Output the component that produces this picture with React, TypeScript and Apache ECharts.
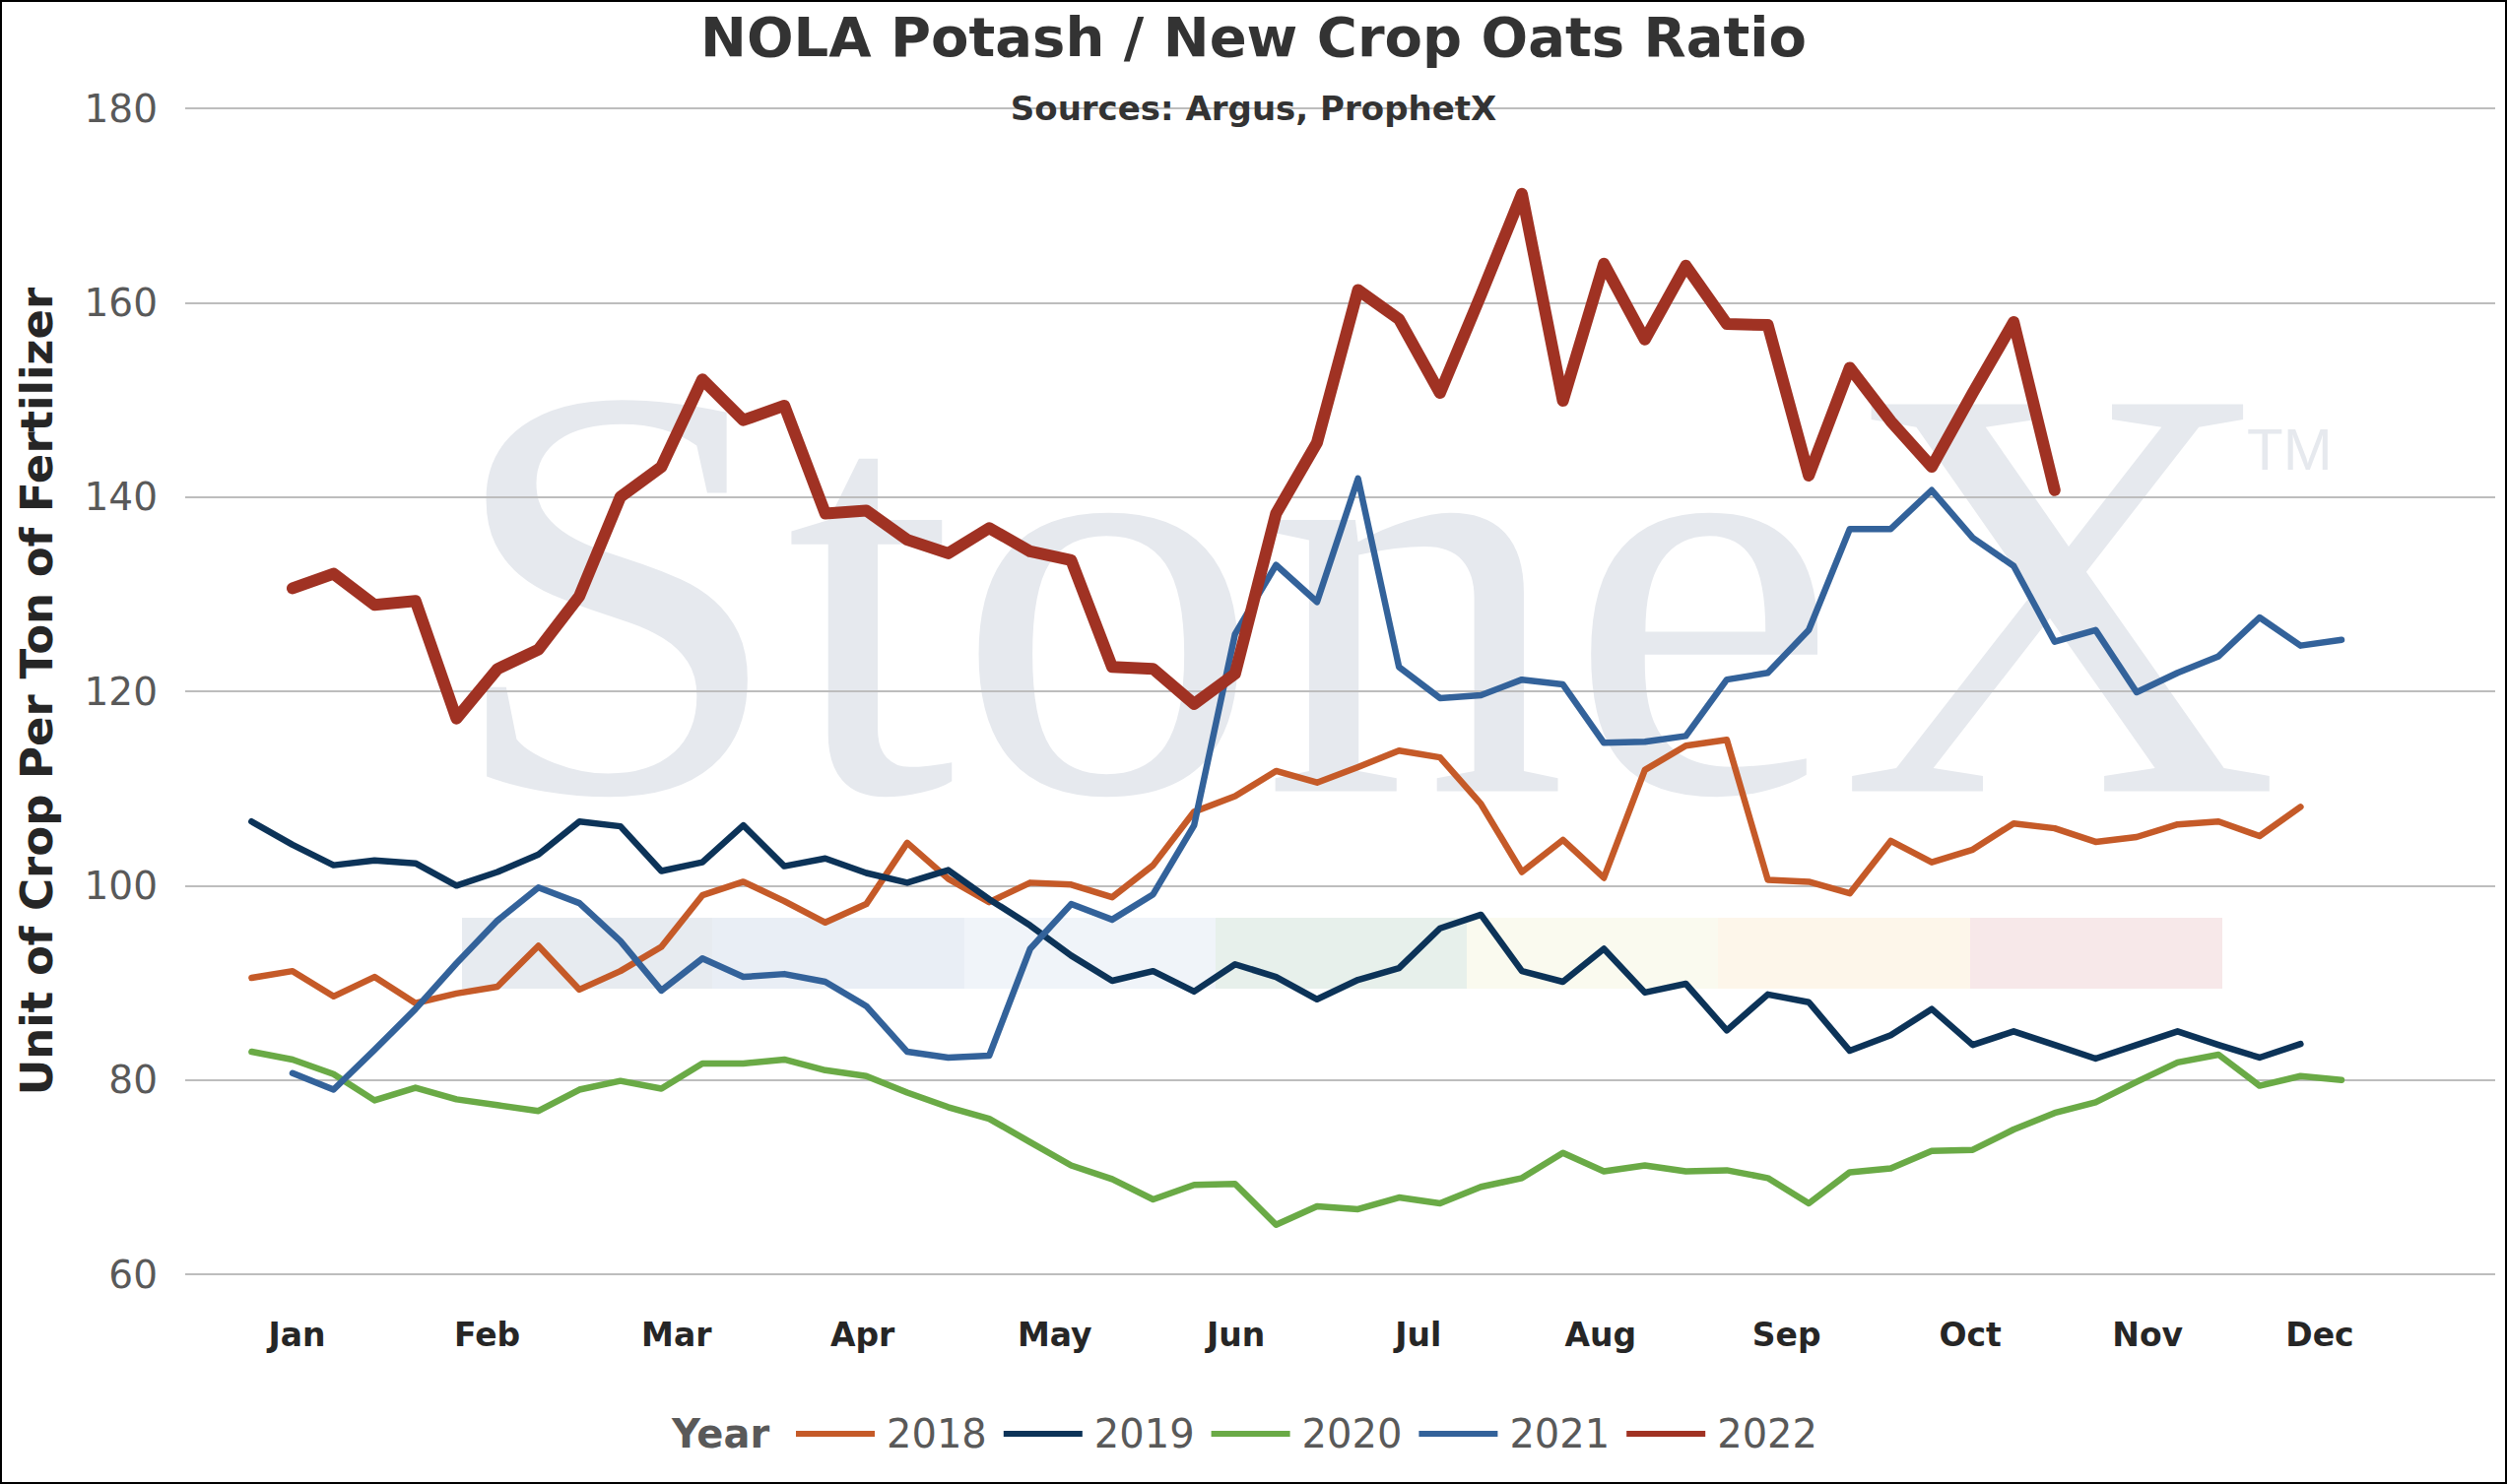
import React, { useEffect, useRef } from "react";
import * as echarts from "echarts";

// weekly ratio values, index 0 = first week of the year
const years = ["2018", "2019", "2020", "2021", "2022"];
const yearColors = ["#c55a28", "#0c3358", "#6aaa46", "#33629a", "#a03223"];

const monthLabels = ["Jan", "Feb", "Mar", "Apr", "May", "Jun", "Jul", "Aug", "Sep", "Oct", "Nov", "Dec"];
const monthTickWeeks = [1.11, 5.75, 10.37, 14.91, 19.6, 24.02, 28.47, 32.92, 37.46, 41.94, 46.27, 50.47];

const values2018 = [
  90.5, 91.2, 88.6, 90.6, 87.9, 88.9, 89.6, 93.8, 89.3, 91.2, 93.7, 99.0, 100.4, 98.4, 96.2, 98.1, 104.4,
  100.7, 98.3, 100.3, 100.1, 98.8, 102.1, 107.6, 109.2, 111.8, 110.6, 112.2, 113.9, 113.2, 108.4, 101.4,
  104.7, 100.8, 111.9, 114.4, 115.0, 100.6, 100.4, 99.2, 104.6, 102.4, 103.7, 106.4, 105.9, 104.5, 105.0,
  106.3, 106.6, 105.1, 108.1,
];
const values2019 = [
  106.6, 104.2, 102.1, 102.6, 102.3, 100.0, 101.4, 103.2, 106.6, 106.1, 101.5, 102.4, 106.2, 102.0, 102.8,
  101.3, 100.3, 101.6, 98.6, 95.9, 92.8, 90.2, 91.2, 89.1, 91.9, 90.6, 88.3, 90.3, 91.5, 95.6, 97.0, 91.2,
  90.1, 93.5, 89.0, 89.9, 85.1, 88.8, 88.0, 83.0, 84.6, 87.3, 83.6, 85.0, 83.6, 82.2, 83.6, 85.0, 83.6,
  82.3, 83.7,
];
const values2020 = [
  82.9, 82.1, 80.6, 77.9, 79.2, 78.0, 77.4, 76.8, 79.0, 79.9, 79.1, 81.7, 81.7, 82.1, 81.0, 80.4, 78.7,
  77.2, 76.0, 73.6, 71.2, 69.8, 67.7, 69.2, 69.3, 65.1, 67.0, 66.7, 67.9, 67.3, 69.0, 69.9, 72.5, 70.6,
  71.2, 70.6, 70.7, 69.9, 67.3, 70.5, 70.9, 72.7, 72.8, 74.9, 76.6, 77.7, 79.8, 81.8, 82.6, 79.4, 80.4,
  80.0,
];
const values2021 = [
  null, 80.7, 79.0, 83.1, 87.3, 92.0, 96.4, 99.8, 98.2, 94.3, 89.2, 92.5, 90.6, 90.9, 90.1, 87.6, 82.9,
  82.3, 82.5, 93.5, 98.1, 96.5, 99.1, 106.2, 125.9, 133.0, 129.2, 141.9, 122.5, 119.3, 119.6, 121.2, 120.7,
  114.7, 114.8, 115.4, 121.2, 121.9, 126.3, 136.7, 136.7, 140.7, 135.8, 132.9, 125.1, 126.3, 119.9, 121.9,
  123.6, 127.6, 124.7, 125.3,
];
const values2022 = [
  null, 130.6, 132.1, 128.9, 129.3, 117.2, 122.3, 124.3, 129.8, 140.0, 143.1, 152.1, 147.9, 149.4, 138.3,
  138.6, 135.6, 134.2, 136.8, 134.4, 133.5, 122.5, 122.3, 118.7, 121.8, 138.3, 145.6, 161.3, 158.3, 150.7,
  160.8, 171.2, 149.9, 164.0, 156.2, 163.8, 157.8, 157.7, 142.2, 153.3, 147.8, 143.1, 150.7, 158.0, 140.7,
];

const FONT = "DejaVu Sans";

const App: React.FC = () => {
  const chartRef = useRef<HTMLDivElement | null>(null);

  useEffect(() => {
    document.body.style.margin = "0";
    if (!chartRef.current) return;
    const chart = echarts.init(chartRef.current, undefined, { renderer: "svg" });

    const seriesValues: (number | null)[][] = [values2018, values2019, values2020, values2021, values2022];

    // faded brand colour band behind the lines
    const band = [
      [469, 723, "#e7ebf0"],
      [723, 979, "#e9eef5"],
      [979, 1234, "#f0f4f9"],
      [1234, 1489, "#e7f0eb"],
      [1489, 1744, "#fafaef"],
      [1744, 2000, "#fdf6ea"],
      [2000, 2256, "#f7e8e9"],
    ];

    const option = {
      animation: false,
      backgroundColor: "#ffffff",
      title: [
        {
          text: "NOLA Potash / New Crop Oats Ratio",
          left: "center",
          top: 7,
          padding: 0,
          textStyle: { fontFamily: FONT, fontWeight: "bold", fontSize: 56, color: "#333333", lineHeight: 60 },
        },
        {
          text: "Sources: Argus, ProphetX",
          left: "center",
          top: 92,
          padding: 0,
          textStyle: { fontFamily: FONT, fontWeight: "bold", fontSize: 34, color: "#333333", lineHeight: 36 },
        },
      ],
      grid: { left: 188, right: 12, top: 110, bottom: 213 },
      xAxis: {
        type: "value",
        min: -1.62,
        max: 54.75,
        axisLine: { show: false },
        axisTick: { show: false },
        splitLine: { show: false },
        axisLabel: {
          customValues: monthTickWeeks,
          formatter: (v: number) => {
            const k = monthTickWeeks.findIndex((p) => Math.abs(p - v) < 0.01);
            return k >= 0 ? monthLabels[k] : "";
          },
          fontFamily: FONT,
          fontWeight: "bold",
          fontSize: 33,
          lineHeight: 34,
          color: "#262626",
          margin: 44,
        },
      },
      yAxis: {
        type: "value",
        min: 60,
        max: 180,
        interval: 20,
        name: "Unit of Crop Per Ton of Fertilizer",
        nameLocation: "middle",
        nameGap: 128,
        nameTextStyle: { fontFamily: FONT, fontWeight: "bold", fontSize: 45, color: "#262626" },
        axisLine: { show: false },
        axisTick: { show: false },
        axisLabel: { fontFamily: FONT, fontSize: 39, color: "#595959", margin: 28 },
        splitLine: { lineStyle: { color: "#bdbdbd", width: 2 } },
      },
      legend: {
        left: 808,
        top: 1436,
        padding: 0,
        itemWidth: 80,
        itemHeight: 6,
        itemGap: 17,
        icon: "rect",
        data: years,
        textStyle: { fontFamily: FONT, fontSize: 40, color: "#595959", lineHeight: 40, padding: [0, 0, 0, 7] },
      },
      graphic: [
        {
          type: "text",
          x: 452,
          y: 601,
          scaleX: 1.035,
          z: -5,
          silent: true,
          style: {
            text: "StoneX",
            fontFamily: "Liberation Serif",
            fontSize: 600,
            fill: "#e6e9ee",
            verticalAlign: "middle",
          },
        },
        {
          type: "text",
          x: 2281,
          y: 456,
          z: -5,
          silent: true,
          style: {
            text: "TM",
            fontFamily: "Liberation Sans",
            fontSize: 60,
            fill: "#e6e9ee",
            verticalAlign: "middle",
          },
        },
        ...band.map(([x0, x1, c]) => ({
          type: "rect",
          z: -5,
          silent: true,
          shape: { x: x0 as number, y: 932, width: (x1 as number) - (x0 as number), height: 72 },
          style: { fill: c as string },
        })),
        {
          type: "text",
          x: 682,
          y: 1456,
          style: {
            text: "Year",
            fontFamily: FONT,
            fontWeight: "bold",
            fontSize: 40,
            fill: "#595959",
            verticalAlign: "middle",
          },
        },
        {
          type: "rect",
          z: 100,
          silent: true,
          shape: { x: 1, y: 1, width: 2543, height: 1505 },
          style: { fill: "none", stroke: "#000000", lineWidth: 2 },
        },
      ],
      series: years.map((name, k) => ({
        name,
        type: "line",
        data: seriesValues[k]
          .map((v, i) => [i, v])
          .filter((p) => p[1] !== null),
        symbol: "none",
        showSymbol: false,
        color: yearColors[k],
        lineStyle: { width: k === 4 ? 12 : 6.5, color: yearColors[k], cap: "round", join: "round" },
        z: 2 + k,
      })),
    };

    chart.setOption(option);

    const handleResize = () => chart.resize();
    window.addEventListener("resize", handleResize);
    return () => {
      window.removeEventListener("resize", handleResize);
      chart.dispose();
    };
  }, []);

  return <div ref={chartRef} style={{ width: "2545px", height: "1507px" }} />;
};

export default App;
